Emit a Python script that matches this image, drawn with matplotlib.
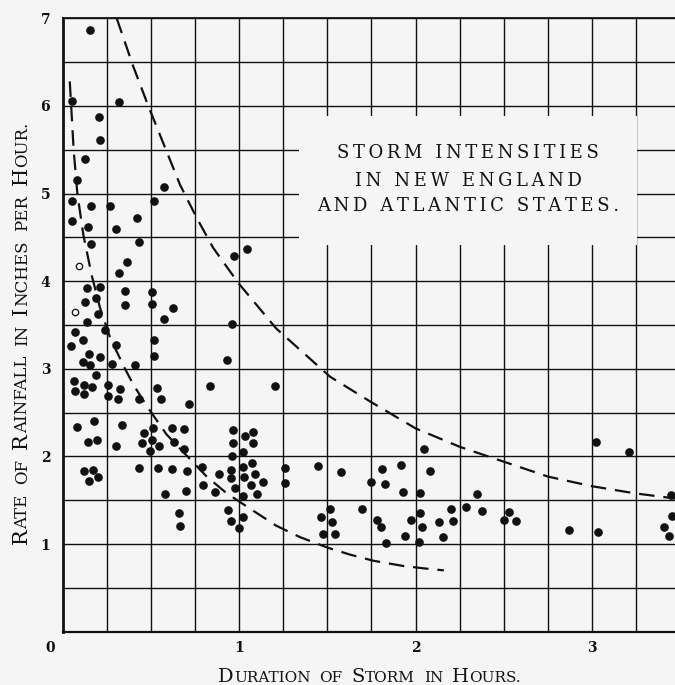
import matplotlib
matplotlib.use('Agg')
import numpy as np
import matplotlib.pyplot as plt
from matplotlib.patches import Rectangle
from matplotlib.transforms import IdentityTransform

# storm records: duration (hours) and rate (inches per hour)
duration = [
    0.155, 0.054, 0.317, 0.206, 0.213, 0.125, 0.083, 0.576, 0.051, 0.159,
    0.268, 0.519, 0.051, 0.142, 0.302, 0.421, 0.162, 0.431, 0.364, 0.317,
    0.971, 1.042, 0.139, 0.211, 0.351, 0.508, 0.128, 0.189, 0.351, 0.508,
    0.198, 0.627, 0.574, 0.138, 0.957, 0.068, 0.240, 0.115, 0.302, 0.519,
    0.047, 0.149, 0.211, 0.113, 0.156, 0.281, 0.411, 0.519, 0.929, 0.189,
    0.066, 0.121, 0.166, 0.068, 0.119, 0.258, 0.325, 0.258, 0.315, 0.431,
    0.536, 0.557, 0.714, 0.835, 1.203, 0.079, 0.177, 0.338, 0.145, 0.196,
    0.302, 0.459, 0.510, 0.448, 0.508, 0.547, 0.495, 0.621, 0.687, 0.631,
    0.687, 0.121, 0.174, 0.198, 0.151, 0.431, 0.542, 0.621, 0.702, 0.788,
    0.797, 0.581, 0.697, 0.659, 0.665, 0.863, 0.886,
    0.967, 1.033, 1.080, 0.967, 1.076, 1.023, 0.959, 0.954, 1.020, 1.074,
    0.954, 1.029, 1.091, 1.133, 0.976, 1.067, 1.099, 1.020, 0.935, 0.952,
    1.020, 1.001,
    1.260, 1.260, 1.445, 1.462, 1.514, 1.524, 1.473, 1.543,
    1.577, 1.696, 1.745, 1.811, 1.826, 1.917, 1.930, 2.024, 2.081, 2.049,
    2.346, 1.779, 1.803, 1.830, 1.939, 1.972, 2.024, 2.036, 2.020, 2.134,
    2.153, 2.200, 2.210, 2.285, 2.377, 2.500, 2.530, 2.568, 2.869, 3.025,
    3.210, 3.031, 3.446, 3.452, 3.407, 3.437,
]
rate = [
    6.87, 6.06, 6.05, 5.87, 5.61, 5.39, 5.16, 5.08, 4.91, 4.86,
    4.86, 4.92, 4.69, 4.62, 4.60, 4.72, 4.42, 4.45, 4.22, 4.09,
    4.29, 4.37, 3.92, 3.93, 3.89, 3.88, 3.76, 3.81, 3.73, 3.74,
    3.62, 3.69, 3.57, 3.53, 3.51, 3.42, 3.44, 3.33, 3.27, 3.33,
    3.26, 3.17, 3.14, 3.08, 3.04, 3.05, 3.04, 3.15, 3.10, 2.93,
    2.86, 2.82, 2.79, 2.75, 2.71, 2.82, 2.77, 2.69, 2.65, 2.65,
    2.78, 2.65, 2.60, 2.80, 2.80, 2.34, 2.41, 2.36, 2.16, 2.19,
    2.12, 2.27, 2.33, 2.15, 2.19, 2.12, 2.06, 2.32, 2.31, 2.17,
    2.09, 1.83, 1.85, 1.76, 1.72, 1.87, 1.87, 1.86, 1.83, 1.88,
    1.67, 1.57, 1.60, 1.36, 1.21, 1.59, 1.80,
    2.30, 2.23, 2.28, 2.15, 2.15, 2.05, 2.00, 1.85, 1.88, 1.92,
    1.75, 1.76, 1.80, 1.71, 1.64, 1.67, 1.57, 1.55, 1.39, 1.26,
    1.31, 1.18,
    1.87, 1.70, 1.89, 1.31, 1.40, 1.25, 1.11, 1.12,
    1.82, 1.40, 1.71, 1.86, 1.69, 1.90, 1.59, 1.58, 1.83, 2.09,
    1.57, 1.28, 1.20, 1.01, 1.09, 1.28, 1.36, 1.20, 1.02, 1.25,
    1.08, 1.40, 1.26, 1.42, 1.38, 1.27, 1.37, 1.26, 1.16, 2.17,
    2.05, 1.14, 1.56, 1.32, 1.20, 1.09,
]
# the two open circles
open_duration = [0.092, 0.070]
open_rate = [4.17, 3.65]

# dashed curves
low_t = [0.040, 0.048, 0.062, 0.083, 0.117, 0.164, 0.211, 0.268, 0.343, 0.400,
         0.485, 0.589, 0.693, 0.816, 0.929, 1.080, 1.210, 1.344, 1.500, 1.628,
         1.760, 1.930, 2.060, 2.160]
low_i = [6.28, 6.00, 5.50, 5.00, 4.53, 4.07, 3.70, 3.36, 3.04, 2.82,
         2.55, 2.25, 2.03, 1.77, 1.58, 1.38, 1.21, 1.08, 0.96, 0.88,
         0.81, 0.75, 0.72, 0.70]
up_t = [0.306, 0.400, 0.485, 0.575, 0.665, 0.760, 0.853, 0.995, 1.210, 1.515,
        1.740, 2.000, 2.250, 2.500, 2.750, 3.000, 3.240, 3.470]
up_i = [7.00, 6.45, 6.00, 5.55, 5.10, 4.72, 4.38, 3.98, 3.46, 2.91,
        2.63, 2.32, 2.11, 1.94, 1.77, 1.66, 1.58, 1.52]

x_ticks = [1, 2, 3]
y_ticks = [1, 2, 3, 4, 5, 6, 7]
title_lines = ['STORM INTENSITIES', 'IN NEW ENGLAND', 'AND ATLANTIC STATES.']
xlabel = 'Duration of Storm in Hours.'
ylabel = 'Rate of Rainfall in Inches per Hour.'

bg = '#f5f5f5'
ink = '#111111'
serif = ['DejaVu Serif', 'DejaVu Sans']

W, H = 675, 685
fig = plt.figure(figsize=(W / 100, H / 100), dpi=100, facecolor=bg)
ax = fig.add_axes([62.7 / W, (H - 631.7) / H, (W - 62.7) / W, (631.7 - 18.3) / H])
ax.set_facecolor(bg)
ax.set_xlim(0, 3.47)
ax.set_ylim(0, 7)

# grid: quarter hours and half inches
ax.set_xticks(x_ticks)
ax.set_xticks(np.arange(0.25, 3.47, 0.25), minor=True)
ax.set_yticks(y_ticks)
ax.set_yticks(np.arange(0.5, 7, 0.5), minor=True)
ax.set_axisbelow(True)
ax.grid(True, which='both', color=ink, lw=1.0)
ax.tick_params(which='both', length=0)
ax.tick_params(axis='x', pad=7)
ax.tick_params(axis='y', pad=9)
for lab in ax.get_xticklabels() + ax.get_yticklabels():
    lab.set_family(serif)
    lab.set_fontweight('bold')
    lab.set_fontsize(10)
    lab.set_color(ink)
ax.annotate('0', xy=(0, 0), xytext=(-9, -12), textcoords='offset points',
            ha='center', va='center', family=serif, fontweight='bold',
            fontsize=10, color=ink)

ax.spines['right'].set_visible(False)
ax.spines['left'].set_linewidth(2.0)
ax.spines['top'].set_linewidth(1.3)
ax.spines['bottom'].set_linewidth(1.6)
for s in ('left', 'top', 'bottom'):
    ax.spines[s].set_color(ink)

# blank panel behind the title
ax.add_patch(Rectangle((1.34, 4.41), 3.255 - 1.34, 5.88 - 4.41,
                       facecolor=bg, edgecolor='none', zorder=1))
for line, yb in zip(title_lines, [5.404, 5.091, 4.803]):
    ax.text(2.297, yb, '\u2009'.join(line), ha='center', va='baseline',
            family=serif, fontsize=13, color=ink, zorder=4)

dash = (0, (7, 4))
ax.plot(low_t, low_i, color=ink, lw=1.6, ls=dash, zorder=2.5)
ax.plot(up_t, up_i, color=ink, lw=1.6, ls=dash, zorder=2.5)

ax.plot(duration, rate, 'o', ms=5.2, color=ink, mec=ink, zorder=3)
ax.plot(open_duration, open_rate, 'o', ms=4.6, mfc=bg, mec=ink, mew=0.9, zorder=3)


def small_caps(x, y, text, big, small, rotation=0, gap=0.0, word_gap=9.0):
    runs = []
    for k, word in enumerate(text.split(' ')):
        if k:
            runs.append((None, word_gap))
        cur, cur_size = '', None
        for ch in word:
            size = big if ch.isupper() else small
            if cur and size != cur_size:
                runs.append((cur, cur_size))
                cur = ''
            cur += ch.upper()
            cur_size = size
        runs.append((cur, cur_size))
    renderer = fig.canvas.get_renderer()
    widths = []
    for s, size in runs:
        if s is None:
            widths.append(size)
            continue
        t = fig.text(0, 0, s, fontsize=size, family=serif)
        widths.append(t.get_window_extent(renderer).width + gap)
        t.remove()
    pos = -sum(widths) / 2
    for (s, size), w in zip(runs, widths):
        if s is not None:
            if rotation:
                fig.text(x, y + pos, s, fontsize=size, family=serif, color=ink,
                         rotation=90, rotation_mode='anchor', ha='left',
                         va='baseline', transform=IdentityTransform())
            else:
                fig.text(x + pos, y, s, fontsize=size, family=serif, color=ink,
                         ha='left', va='baseline', transform=IdentityTransform())
        pos += w


small_caps(369.5, H - 682, xlabel, 14.0, 11.0)
small_caps(26.7, H - 333, ylabel, 15.0, 12.0, rotation=90, word_gap=10.0)

fig.savefig('out.png', dpi=100, facecolor=bg)
